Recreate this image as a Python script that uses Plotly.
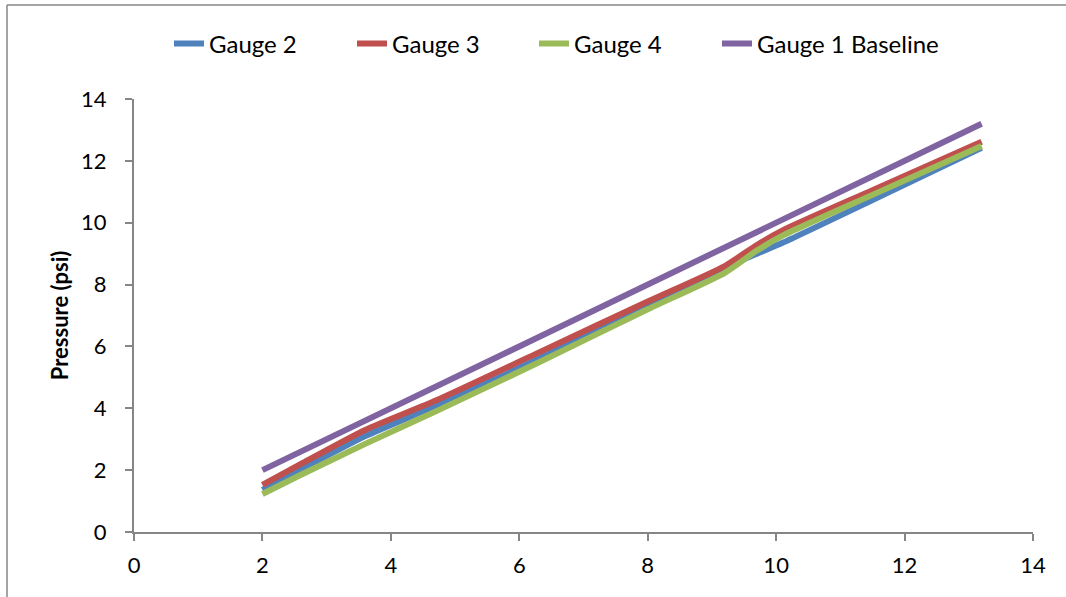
import plotly.graph_objects as go

x_pts = [2, 2.6, 3.6, 4.7, 6.3, 8.0, 9.2, 9.7, 10.1, 11.5, 13.2]
gauge2 = [1.36, 2.02, 3.10, 4.08, 5.60, 7.35, 8.55, 9.00, 9.35, 10.73, 12.42]
gauge3 = [1.52, 2.20, 3.30, 4.25, 5.80, 7.45, 8.60, 9.28, 9.75, 11.05, 12.62]
gauge4 = [1.23, 1.85, 2.85, 3.90, 5.48, 7.20, 8.38, 9.10, 9.58, 10.90, 12.48]
base_x = [2, 13.2]
base_y = [2, 13.2]

series = [
    ("Gauge 2", x_pts, gauge2, "#4F81BD"),
    ("Gauge 3", x_pts, gauge3, "#C0504D"),
    ("Gauge 4", x_pts, gauge4, "#9BBB59"),
    ("Gauge 1 Baseline", base_x, base_y, "#8064A2"),
]

FONT = "Lato, 'Open Sans', sans-serif"

L, R, T, B = 134, 33, 99, 65
W, H = 1066, 597
pw, ph = W - L - R, H - T - B

def px(xp):
    return (xp - L) / pw

def py(yp):
    return (H - B - yp) / ph

legend_text_x = [209, 392, 574, 757]
legend_names = ["legend", "legend2", "legend3", "legend4"]

fig = go.Figure()
for i, (name, xs, ys, col) in enumerate(series):
    fig.add_trace(go.Scatter(x=xs, y=ys, name=name, mode="lines", legend=legend_names[i],
                             line=dict(color=col, width=6, shape="spline", smoothing=0.6)))

legend_layout = {}
for i, ln in enumerate(legend_names):
    legend_layout[ln] = dict(orientation="h", x=px(legend_text_x[i] - 40), xanchor="left",
                             y=py(44), yanchor="middle",
                             font=dict(family=FONT, size=24, color="#000000"),
                             bgcolor="rgba(0,0,0,0)")

fig.update_layout(
    width=W, height=H,
    margin=dict(l=L, r=R, t=T, b=B),
    paper_bgcolor="white", plot_bgcolor="white",
    font=dict(family=FONT, size=22, color="#000000"),
    showlegend=True,
    **legend_layout,
    xaxis=dict(range=[0, 14], tickmode="linear", tick0=0, dtick=2,
               showgrid=False, zeroline=False, showline=True,
               linecolor="#868686", linewidth=2, ticks="outside", ticklen=7,
               tickcolor="#868686", tickwidth=1.5, ticklabelstandoff=6,
               tickfont=dict(family=FONT, size=22, color="#000000")),
    yaxis=dict(range=[0, 14], tickmode="linear", tick0=0, dtick=2,
               showgrid=False, zeroline=False, showline=True,
               linecolor="#868686", linewidth=2, ticks="outside", ticklen=7,
               tickcolor="#868686", tickwidth=1.5, ticklabelstandoff=14,
               tickfont=dict(family=FONT, size=22, color="#000000"),
               title=dict(text="<b>Pressure (psi)</b>", standoff=6,
                          font=dict(family=FONT, size=22, color="#000000"))),
    shapes=[
        dict(type="line", xref="paper", yref="paper", x0=px(7), x1=px(1075), y0=py(5), y1=py(5),
             line=dict(color="#868686", width=1.5)),
        dict(type="line", xref="paper", yref="paper", x0=px(7), x1=px(7), y0=py(5), y1=py(610),
             line=dict(color="#868686", width=1.5)),
    ],
)

fig.write_html("out.html", config={"displayModeBar": False},
               post_script="document.body.style.margin='0';document.body.style.overflow='hidden';")
